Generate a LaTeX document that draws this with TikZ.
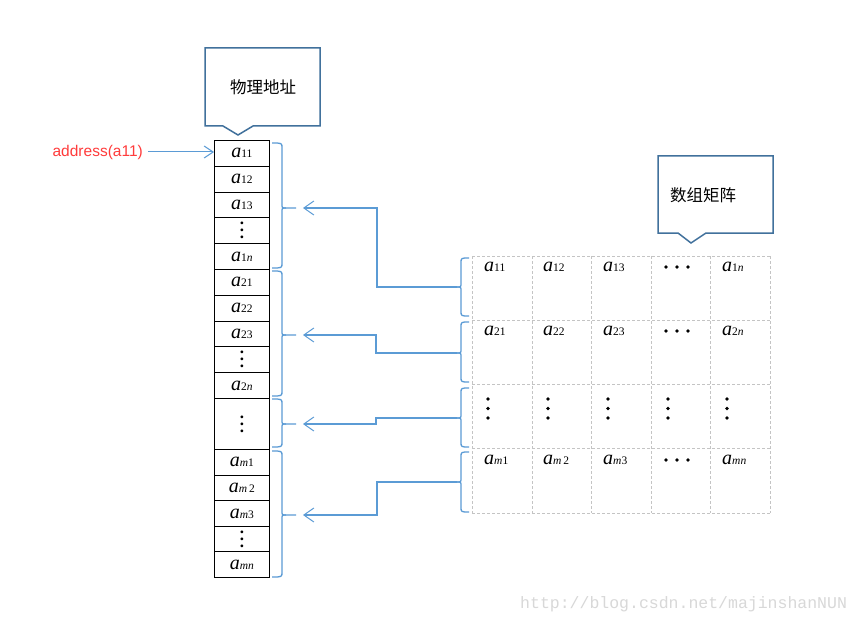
\documentclass[tikz,border=0pt]{standalone}
\usepackage{fontspec}
\setmainfont{Liberation Serif}
\newfontfamily\cjk{Noto Sans CJK SC}
\newfontfamily\arialf{Liberation Sans}
\newfontfamily\monof{Liberation Mono}
\usetikzlibrary{arrows.meta,calc}
\definecolor{callblue}{HTML}{41719C}
\definecolor{lineblue}{HTML}{5B9BD5}
\definecolor{addrred}{HTML}{FF3B3B}
\definecolor{gridgray}{HTML}{C4C4C4}
\definecolor{wmgray}{HTML}{D8D8D8}
\newcommand\ael[1]{{\fontsize{20}{20}\selectfont\itshape a}{\fontsize{11.5}{11.5}\selectfont #1}}
\newcommand\vd{{\fontsize{17}{17}\selectfont\bfseries\vbox{\baselineskip7pt\lineskiplimit0pt\hbox{.}\hbox{.}\hbox{.}}}}
\tikzset{
  cell/.style={draw=black, line width=0.9pt, minimum width=55pt, inner sep=0pt, anchor=north west},
  callbox/.style={draw=callblue, line width=1.5pt, fill=white, line join=miter},
  bracestyle/.style={draw=lineblue, line width=1.3pt, line join=round},
  conn/.style={draw=lineblue, line width=1.2pt, -{Straight Barb[length=10pt,width=14pt,line width=1pt]}},
  grid/.style={draw=gridgray, line width=0.8pt, dash pattern=on 3pt off 2pt},
  mlab/.style={anchor=base west, inner sep=0pt},
  bigdot/.style={fill=black}
}
\begin{document}
\begin{tikzpicture}[x=1pt,y=-1pt]
\useasboundingbox (0,0) rectangle (860,623);
\fill[white] (0,0) rectangle (860,623);

% callouts
\draw[callbox] (205,48) -- (320,48) -- (320,126) -- (253,126) -- (238,135) -- (223,126) -- (205,126) -- cycle;
\node[font=\cjk\fontsize{16.5}{16.5}\selectfont] (t1) at (263,87) {物理地址};
\draw[callbox] (658,156) -- (773,156) -- (773,233) -- (706,233) -- (691,243) -- (678,233) -- (658,233) -- cycle;
\node[font=\cjk\fontsize{16.5}{16.5}\selectfont] (t2) at (703,195) {数组矩阵};

% memory column
\node[cell, minimum height=25.8pt] (c1) at (214,140) {\ael{11}};
\node[cell, minimum height=25.8pt] (c2) at (214,165.8) {\ael{12}};
\node[cell, minimum height=25.8pt] (c3) at (214,191.6) {\ael{13}};
\node[cell, minimum height=25.8pt] (c4) at (214,217.4) {\vd};
\node[cell, minimum height=25.8pt] (c5) at (214,243.2) {\ael{1\textit{n}}};
\node[cell, minimum height=25.8pt] (c6) at (214,269) {\ael{21}};
\node[cell, minimum height=25.8pt] (c7) at (214,294.8) {\ael{22}};
\node[cell, minimum height=25.8pt] (c8) at (214,320.6) {\ael{23}};
\node[cell, minimum height=25.8pt] (c9) at (214,346.4) {\vd};
\node[cell, minimum height=25.8pt] (c10) at (214,372.2) {\ael{2\textit{n}}};
\node[cell, minimum height=51pt] (c11) at (214,398) {\vd};
\node[cell, minimum height=25.6pt] (c12) at (214,449) {\ael{\textit{m}1}};
\node[cell, minimum height=25.6pt] (c13) at (214,474.6) {\ael{\textit{m}\,2}};
\node[cell, minimum height=25.6pt] (c14) at (214,500.2) {\ael{\textit{m}3}};
\node[cell, minimum height=25.6pt] (c15) at (214,525.8) {\vd};
\node[cell, minimum height=25.6pt] (c16) at (214,551.4) {\ael{\textit{mn}}};

% address label
\node[anchor=east, inner sep=0pt, text=addrred, font=\arialf\fontsize{15.5}{15.5}\selectfont] (addr) at (143,152) {address(a11)};
\draw[draw=lineblue, line width=1pt, -{Straight Barb[length=9pt,width=12pt,line width=1pt]}] ($(addr.east)+(5,0)$) -- (addr.east -| c1.west);

% left braces "}"
\foreach \yt/\yb/\ym/\n in {143/268/208/1, 271/396/335/2, 399/447/424/3, 451/577/515/4}{
  \draw[bracestyle] (272,\yt) .. controls (282,\yt) .. (282,\yt+5) -- (282,\ym-4)
     .. controls (282,\ym) .. (286,\ym) -- (296,\ym);
  \draw[bracestyle] (286,\ym) .. controls (282,\ym) .. (282,\ym+4) -- (282,\yb-5)
     .. controls (282,\yb) .. (272,\yb);
  \coordinate (lb\n) at (303,\ym);
}

% matrix grid
\foreach \x in {472,532,591,651,710,770} \draw[grid] (\x,256) -- (\x,513);
\foreach \y in {256,320,384,448,513} \draw[grid] (472,\y) -- (770,\y);

% matrix braces "{"
\foreach \yt/\yb/\ym/\n in {258/316/287/1, 322/382/353/2, 388/447/418/3, 452/512/482/4}{
  \draw[bracestyle] (469,\yt) .. controls (461,\yt) .. (461,\yt+5) -- (461,\ym-4)
     .. controls (461,\ym) .. (457,\ym);
  \draw[bracestyle] (457,\ym) .. controls (461,\ym) .. (461,\ym+4) -- (461,\yb-5)
     .. controls (461,\yb) .. (469,\yb);
  \coordinate (mb\n) at (457,\ym);
}

% connectors
\coordinate (k1) at (377,208);
\coordinate (k2) at (376,335);
\coordinate (k3) at (376,424);
\coordinate (k4) at (377,515);
\draw[conn] (mb1) -| (k1) -- (lb1);
\draw[conn] (mb2) -| (k2) -- (lb2);
\draw[conn] (mb3) -| (k3) -- (lb3);
\draw[conn] (mb4) -| (k4) -- (lb4);

% matrix labels
\node[mlab] (m11) at (484,271) {\ael{11}};
\node[mlab] (m12) at (543,271) {\ael{12}};
\node[mlab] (m13) at (603,271) {\ael{13}};
\node[mlab] (m1n) at (722,271) {\ael{1\textit{n}}};
\node[mlab] (m21) at (484,335) {\ael{21}};
\node[mlab] (m22) at (543,335) {\ael{22}};
\node[mlab] (m23) at (603,335) {\ael{23}};
\node[mlab] (m2n) at (722,335) {\ael{2\textit{n}}};
\node[mlab] (mm1) at (484,464) {\ael{\textit{m}1}};
\node[mlab] (mm2) at (543,464) {\ael{\textit{m}\,2}};
\node[mlab] (mm3) at (603,464) {\ael{\textit{m}3}};
\node[mlab] (mmn) at (722,464) {\ael{\textit{mn}}};

% horizontal dots
\foreach \y in {267,331,460}{
  \foreach \x in {666,677,688} \fill[bigdot] (\x,\y) circle (1.9pt);
}
% vertical dots
\foreach \x in {488,548,608,668,727}{
  \foreach \y in {399,408.5,418} \fill[bigdot] (\x,\y) circle (1.9pt);
}

% watermark
\node[anchor=base west, inner sep=0pt, text=wmgray, font=\monof\fontsize{16.5}{16.5}\selectfont] (wm) at (520,608) {http://blog.csdn.net/majinshanNUN};
\end{tikzpicture}
\end{document}
